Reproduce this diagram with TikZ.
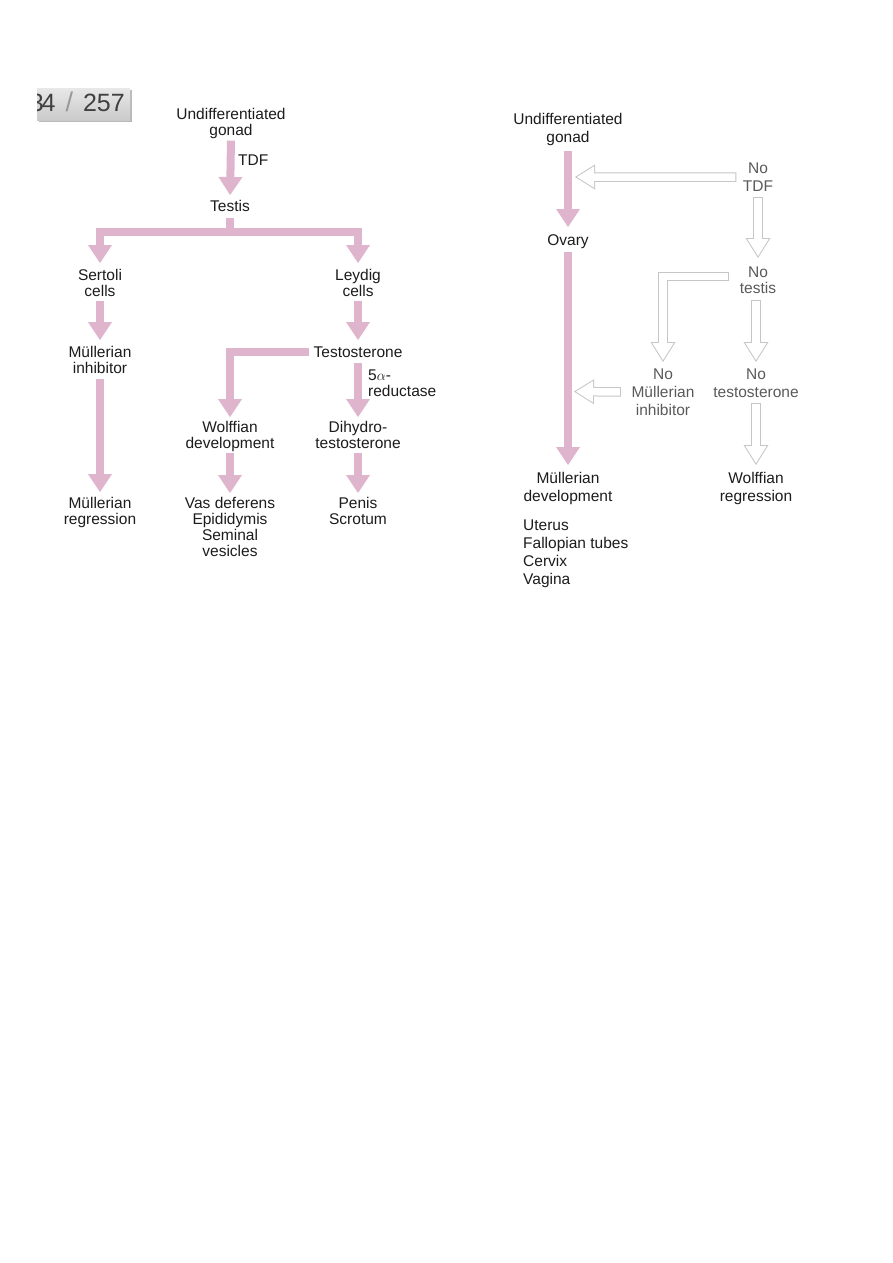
\documentclass[tikz,border=0pt]{standalone}
\usepackage{fontspec}
\setmainfont{Liberation Sans}
\usetikzlibrary{arrows.meta,calc}
\definecolor{pinkar}{RGB}{223,180,205}
\definecolor{outl}{RGB}{198,198,198}
\definecolor{txt}{RGB}{28,28,28}
\definecolor{txtg}{RGB}{90,90,90}
\tikzset{
  lbl/.style={align=center, inner sep=0pt, anchor=north, text=txt, font=\fontsize{15.5}{16}\selectfont},
  lblr/.style={lbl, font=\fontsize{15.5}{18}\selectfont},
  lblg/.style={lblr, text=txtg},
  parrow/.style={draw=pinkar, line width=8pt, line join=miter,
    -{Triangle[width=24pt 0 0,length=18pt 0 0,line width=0pt 0 0]}},
  obg/.style={draw=outl, line width=9.5pt, line join=miter,
    -{Triangle[width=25pt 0 0,length=20pt 0 0,line width=0pt 0 0]}},
  ofg/.style={draw=white, line width=7.5pt, line join=miter,
    -{Triangle[width=21.4pt 0 0,length=17.1pt 0 0,line width=0pt 0 0]}},
}
\newcommand{\outarrow}[3]{%
  \draw[obg, shorten <=#1pt, shorten >=#2pt] #3;
  \draw[ofg, shorten <=#1pt+1pt, shorten >=#2pt+1.9pt] #3;}
\begin{document}
\begin{tikzpicture}[x=1pt,y=-1pt]
\useasboundingbox (0,0) rectangle (892,1263);
\fill[white] (0,0) rectangle (892,1263);

% page badge
\fill[gray!55] (38.5,90) rectangle (131.5,122);
\shade[top color=gray!18, bottom color=gray!42] (37,88) rectangle (130,120.5);
\begin{scope}
  \clip (37,88) rectangle (130,120.5);
  \node[anchor=base east, inner sep=0pt, text=black!75, font=\fontsize{25}{25}\selectfont]
    (pg) at (125,111) {3\kern-2pt 4\hspace{10pt}{\color{black!40}\fontsize{27}{27}\selectfont/}\hspace{10pt}257};
\end{scope}

% ---------- left diagram ----------
\node[lbl] (ug1) at (231,108.5) {Undifferentiated\\gonad};
\node[lbl, anchor=north west] (tdf) at (238,154.5) {TDF};
\node[lbl] (testis) at (230,200.5) {Testis};
\node[lbl] (sertoli) at (100,269.5) {Sertoli\\cells};
\node[lbl] (leydig) at (358,269.5) {Leydig\\cells};
\node[lbl] (mi) at (100,346.5) {Müllerian\\inhibitor};
\node[lbl] (testo) at (358,346.5) {Testosterone};
\node[lbl, anchor=north west, align=left] (red) at (368,369.5) {5$\alpha$-\\reductase};
\node[lbl] (wolff) at (230,421.5) {Wolffian\\development};
\node[lbl] (dht) at (358,421.5) {Dihydro-\\testosterone};
\node[lbl] (mr) at (100,497.5) {Müllerian\\regression};
\node[lbl] (vas) at (230,497.5) {Vas deferens\\Epididymis\\Seminal\\vesicles};
\node[lbl] (penis) at (358,497.5) {Penis\\Scrotum};

\draw[parrow, shorten <=1.3pt, shorten >=5.5pt] (ug1.south) -- (testis.north);
\draw[parrow, shorten <=5.5pt, shorten >=6.5pt] (testis.south) -- ++(0,20) -| (sertoli.north);
\draw[parrow, shorten <=5.5pt, shorten >=6.5pt] (testis.south) -- ++(0,20) -| (leydig.north);
\draw[parrow, shorten <=3.5pt, shorten >=6.5pt] (sertoli.south) -- (mi.north);
\draw[parrow, shorten <=3.5pt, shorten >=6.5pt] (leydig.south) -- (testo.north);
\draw[parrow, shorten <=4.5pt, shorten >=5.5pt] (mi.south) -- (mr.north);
\draw[parrow, shorten <=4pt, shorten >=4.5pt] (testo.west) -| (wolff.north);
\draw[parrow, shorten <=5.5pt, shorten >=4.5pt] (testo.south) -- (dht.north);
\draw[parrow, shorten <=0.5pt, shorten >=4.5pt] (wolff.south) -- (vas.north);
\draw[parrow, shorten <=3.5pt, shorten >=4.5pt] (dht.south) -- (penis.north);

% ---------- right diagram ----------
\node[lblr] (ug2) at (568,113.5) {Undifferentiated\\gonad};
\node[lblr] (ovary) at (568,234.5) {Ovary};
\node[lblr] (md) at (568,472.5) {Müllerian\\development};
\node[lblr, anchor=north west, align=left] (list) at (523,519.5) {Uterus\\Fallopian tubes\\Cervix\\Vagina};
\node[lblg] (notdf) at (758,162.5) {No\\TDF};
\node[lbl, text=txtg] (notestis) at (758,266.5) {No\\testis};
\node[lblg] (nomi) at (663,368.5) {No\\Müllerian\\inhibitor};
\node[lblg] (notesto) at (756,368.5) {No\\testosterone};
\node[lblr] (wr) at (756,472.5) {Wolffian\\regression};

\coordinate (j1) at (575,177);
\coordinate (j2) at (574,391.5);

\draw[parrow, shorten <=4.3pt, shorten >=7.5pt] (ug2.south) -- (ovary.north);
\draw[parrow, shorten <=3.3pt, shorten >=7.5pt] (ovary.south) -- (md.north);

\outarrow{6.4}{0}{(notdf.west) -- (j1)}
\outarrow{5.5}{8.5}{(notdf.south) -- (notestis.north)}
\outarrow{0}{6.5}{($(notestis.west)+(-10.5,-3.5)$) -| (nomi.north)}
\outarrow{6.5}{6.5}{(notestis.south -| notesto.north) -- (notesto.north)}
\outarrow{10.5}{0}{(nomi.west) -- (j2)}
\outarrow{5.5}{7.5}{(notesto.south) -- (wr.north)}
\end{tikzpicture}
\end{document}
